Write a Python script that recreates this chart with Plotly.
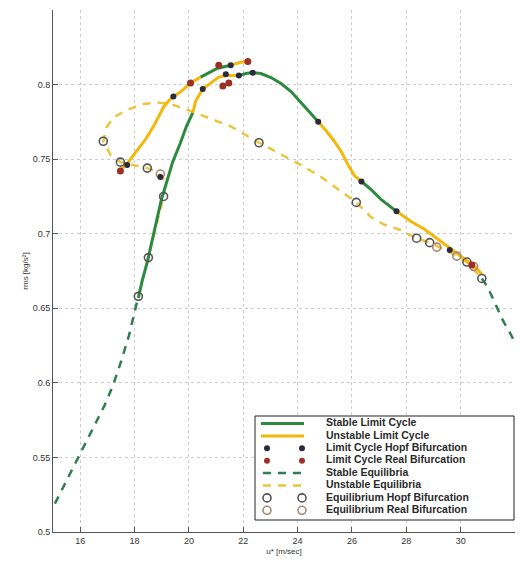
import plotly.graph_objects as go

# ---------------- equilibrium branches ----------------
stable_eq_left_x = [15.07, 15.4, 15.7, 16.0, 16.3, 16.6, 16.9, 17.2, 17.5, 17.8, 18.0, 18.14]
stable_eq_left_y = [0.519, 0.531, 0.541, 0.553, 0.563, 0.574, 0.585, 0.598, 0.614, 0.632, 0.647, 0.658]
stable_eq_right_x = [30.78, 31.0, 31.3, 31.55, 31.8, 32.0]
stable_eq_right_y = [0.670, 0.664, 0.652, 0.642, 0.634, 0.627]

unstable_eq_x = [18.14, 18.33, 18.51, 18.70, 18.88, 19.07, 19.14, 19.03, 18.77, 18.47, 17.96, 17.48,
                 17.11, 16.85, 16.96, 17.22, 17.73, 18.33, 18.84, 19.32, 19.95, 20.69, 21.54, 22.58,
                 23.39, 24.13, 24.87, 25.61, 26.16, 26.71, 27.20, 27.71, 28.38, 28.86, 29.56, 30.23, 30.78]
unstable_eq_y = [0.658, 0.672, 0.685, 0.699, 0.711, 0.725, 0.733, 0.738, 0.742, 0.744, 0.746, 0.748,
                 0.753, 0.762, 0.771, 0.778, 0.783, 0.787, 0.788, 0.787, 0.783, 0.778, 0.772, 0.761,
                 0.753, 0.746, 0.738, 0.728, 0.721, 0.711, 0.706, 0.703, 0.697, 0.694, 0.688, 0.681, 0.670]

# ---------------- limit-cycle branches (split by stability) ----------------
unstable_lc_segments = [
    ([17.51, 17.77, 18.10, 18.40, 18.70, 18.88, 19.07, 19.25, 19.43, 19.69, 20.06, 20.43],
     [0.743, 0.748, 0.756, 0.763, 0.772, 0.778, 0.785, 0.789, 0.792, 0.795, 0.801, 0.805]),
    ([21.54, 21.91, 22.17],
     [0.813, 0.815, 0.8155]),
    ([20.14, 20.25, 20.51, 20.80, 21.10, 21.36, 21.84],
     [0.781, 0.789, 0.797, 0.801, 0.805, 0.806, 0.806]),
    ([24.76, 25.05, 25.35, 25.61, 25.86, 26.09, 26.35],
     [0.775, 0.769, 0.762, 0.755, 0.746, 0.739, 0.735]),
    ([27.64, 28.19, 28.67, 29.12, 29.56, 30.04, 30.52, 30.78],
     [0.715, 0.708, 0.703, 0.697, 0.691, 0.685, 0.678, 0.673]),
]
stable_lc_segments = [
    ([20.43, 20.73, 21.06, 21.54],
     [0.805, 0.808, 0.811, 0.813]),
    ([18.14, 18.29, 18.47, 18.66, 18.84, 18.99, 19.14, 19.40, 19.69, 19.91, 20.14],
     [0.657, 0.669, 0.681, 0.696, 0.711, 0.723, 0.732, 0.748, 0.761, 0.772, 0.781]),
    ([21.84, 22.10, 22.35, 22.65, 23.02, 23.39, 23.76, 24.13, 24.50, 24.76],
     [0.806, 0.8074, 0.8081, 0.8074, 0.8047, 0.8007, 0.7953, 0.7879, 0.7805, 0.775]),
    ([26.35, 26.71, 27.08, 27.64],
     [0.735, 0.7295, 0.7228, 0.715]),
]

# ---------------- bifurcation points ----------------
lc_hopf_x = [17.73, 19.43, 18.95, 20.51, 21.36, 21.54, 21.84, 22.35, 24.76, 26.35, 27.64, 29.60]
lc_hopf_y = [0.746, 0.792, 0.738, 0.797, 0.807, 0.813, 0.806, 0.808, 0.775, 0.735, 0.715, 0.689]
lc_real_x = [17.48, 20.06, 21.10, 21.25, 21.47, 22.17, 30.41]
lc_real_y = [0.742, 0.801, 0.813, 0.799, 0.801, 0.8155, 0.679]
eq_hopf_x = [16.85, 17.48, 18.47, 19.07, 18.51, 18.14, 22.58, 26.16, 28.38, 28.86, 30.23, 30.78]
eq_hopf_y = [0.762, 0.748, 0.744, 0.725, 0.684, 0.658, 0.761, 0.721, 0.697, 0.694, 0.681, 0.670]
eq_real_x = [18.95, 29.12, 29.86, 30.48]
eq_real_y = [0.740, 0.691, 0.685, 0.678]

legend_labels = ["Stable Limit Cycle", "Unstable Limit Cycle", "Limit Cycle Hopf Bifurcation",
                 "Limit Cycle Real Bifurcation", "Stable Equilibria", "Unstable Equilibria",
                 "Equilibrium Hopf Bifurcation", "Equilibrium Real Bifurcation"]

x_ticks = [16, 18, 20, 22, 24, 26, 28, 30, 32]
y_ticks = [0.5, 0.55, 0.6, 0.65, 0.7, 0.75, 0.8]
y_tick_text = ["0.5", "0.55", "0.6", "0.65", "0.7", "0.75", "0.8"]

GREEN = "#2b8a3e"
YELLOW = "#f2b80a"
GREEN_DASH = "#2f7d52"
YELLOW_DASH = "#ecc43e"
LC_HOPF = "#2a2a3c"
LC_REAL = "#9c2f26"
EQ_HOPF = "#555555"
EQ_REAL = "#a88670"


def joined(segments):
    xs, ys = [], []
    for sx, sy in segments:
        xs += list(sx) + [None]
        ys += list(sy) + [None]
    return xs, ys


fig = go.Figure()

sx, sy = joined([(stable_eq_left_x, stable_eq_left_y), (stable_eq_right_x, stable_eq_right_y)])
fig.add_trace(go.Scatter(x=sx, y=sy, mode="lines",
                         line=dict(color=GREEN_DASH, width=2.5, dash="8px,7px")))
fig.add_trace(go.Scatter(x=unstable_eq_x, y=unstable_eq_y, mode="lines",
                         line=dict(color=YELLOW_DASH, width=2.5, dash="8px,7px")))

sx, sy = joined(stable_lc_segments)
fig.add_trace(go.Scatter(x=sx, y=sy, mode="lines", line=dict(color=GREEN, width=3)))
sx, sy = joined(unstable_lc_segments)
fig.add_trace(go.Scatter(x=sx, y=sy, mode="lines", line=dict(color=YELLOW, width=3)))

fig.add_trace(go.Scatter(x=eq_hopf_x, y=eq_hopf_y, mode="markers",
                         marker=dict(symbol="circle-open", size=8, color=EQ_HOPF, line=dict(width=1.6))))
fig.add_trace(go.Scatter(x=eq_real_x, y=eq_real_y, mode="markers",
                         marker=dict(symbol="circle-open", size=8, color=EQ_REAL, line=dict(width=1.6))))
fig.add_trace(go.Scatter(x=lc_hopf_x, y=lc_hopf_y, mode="markers",
                         marker=dict(symbol="circle", size=6, color=LC_HOPF)))
fig.add_trace(go.Scatter(x=lc_real_x, y=lc_real_y, mode="markers",
                         marker=dict(symbol="circle", size=7, color=LC_REAL)))

# ---------------- legend box on a pixel-scaled overlay axis ----------------
L = dict(xaxis="x2", yaxis="y2", hoverinfo="skip")
box_l, box_r, box_t, box_b = 255, 514, 416, 520
fig.add_trace(go.Scatter(x=[box_l, box_r, box_r, box_l, box_l], y=[box_t, box_t, box_b, box_b, box_t],
                         mode="lines", fill="toself", fillcolor="white",
                         line=dict(color="#222222", width=1), **L))

row0, step = 423.5, 12.4
rows = [row0 + i * step for i in range(len(legend_labels))]
line_x = [261, 304]
mark_x = [267, 302]
fig.add_trace(go.Scatter(x=line_x, y=[rows[0]] * 2, mode="lines", line=dict(color=GREEN, width=3), **L))
fig.add_trace(go.Scatter(x=line_x, y=[rows[1]] * 2, mode="lines", line=dict(color=YELLOW, width=3), **L))
fig.add_trace(go.Scatter(x=mark_x, y=[rows[2]] * 2, mode="markers",
                         marker=dict(size=6, color=LC_HOPF), **L))
fig.add_trace(go.Scatter(x=mark_x, y=[rows[3]] * 2, mode="markers",
                         marker=dict(size=6, color=LC_REAL), **L))
fig.add_trace(go.Scatter(x=[263, 304], y=[rows[4]] * 2, mode="lines",
                         line=dict(color=GREEN_DASH, width=2.5, dash="8px,7px"), **L))
fig.add_trace(go.Scatter(x=[263, 304], y=[rows[5]] * 2, mode="lines",
                         line=dict(color=YELLOW_DASH, width=2.5, dash="8px,7px"), **L))
fig.add_trace(go.Scatter(x=mark_x, y=[rows[6]] * 2, mode="markers",
                         marker=dict(symbol="circle-open", size=8, color=EQ_HOPF, line=dict(width=1.6)), **L))
fig.add_trace(go.Scatter(x=mark_x, y=[rows[7]] * 2, mode="markers",
                         marker=dict(symbol="circle-open", size=8, color=EQ_REAL, line=dict(width=1.6)), **L))
fig.add_trace(go.Scatter(x=[326] * len(legend_labels), y=rows, mode="text", text=legend_labels,
                         textposition="middle right",
                         textfont=dict(family="Liberation Sans", size=10.5, weight="bold",
                                       color="#2a2a2a"), **L))

axis_common = dict(showgrid=True, gridcolor="#cccccc", griddash="dot", gridwidth=1,
                   showline=True, linecolor="#555555", linewidth=1, zeroline=False,
                   ticks="inside", ticklen=5, tickcolor="#555555",
                   tickfont=dict(family="Liberation Sans", size=9, color="#333333"))

fig.update_layout(
    width=520, height=563,
    margin=dict(l=53, r=5, t=10, b=31),
    paper_bgcolor="white", plot_bgcolor="white",
    showlegend=False,
    font=dict(family="Liberation Sans", color="#333333"),
    xaxis=dict(range=[15, 32], tickvals=x_ticks,
               title=dict(text="u* [m/sec]", font=dict(size=8), standoff=3), **axis_common),
    yaxis=dict(range=[0.5, 0.85], tickvals=y_ticks, ticktext=y_tick_text,
               title=dict(text="rms [kg/s²]", font=dict(size=8), standoff=2), **axis_common),
    xaxis2=dict(range=[53, 515], overlaying="x", anchor="y2", visible=False, fixedrange=True),
    yaxis2=dict(range=[532, 10], overlaying="y", anchor="x2", visible=False, fixedrange=True),
)

fig.write_html("out.html")
